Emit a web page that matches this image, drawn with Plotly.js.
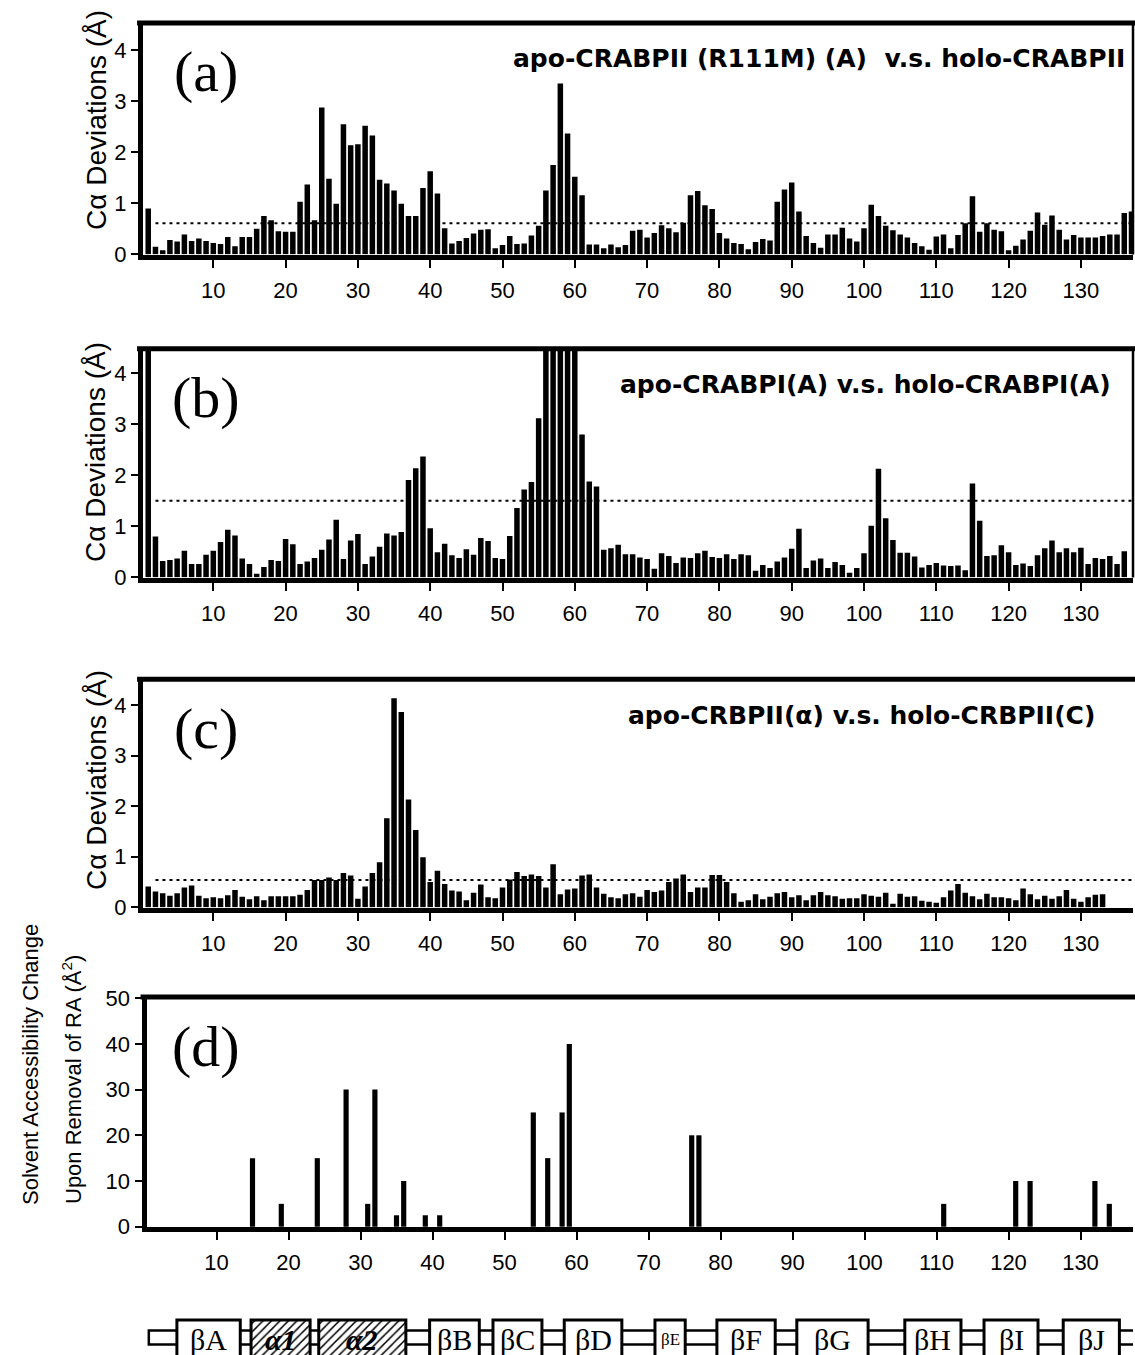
<!DOCTYPE html>
<html><head><meta charset="utf-8">
<script src="https://cdn.plot.ly/plotly-3.0.1.min.js"></script>
<style>html,body{margin:0;padding:0;background:#fff}</style>
</head><body><div id="chart" style="width:1135px;height:1355px"></div>
<script>
// ---------------- DATA ----------------
// (a) apo-CRABPII (R111M)(A) vs holo-CRABPII, residues 1..137
const devA = [0.90,0.15,0.08,0.28,0.25,0.39,0.26,0.31,0.26,0.22,
0.20,0.34,0.16,0.34,0.34,0.50,0.75,0.67,0.45,0.44,
0.44,1.03,1.37,0.67,2.88,1.48,0.99,2.55,2.14,2.16,
2.52,2.33,1.46,1.39,1.25,0.99,0.75,0.75,1.30,1.63,
1.19,0.51,0.21,0.26,0.32,0.41,0.48,0.49,0.12,0.18,
0.36,0.20,0.21,0.37,0.56,1.25,1.75,3.35,2.37,1.52,
1.16,0.19,0.19,0.12,0.19,0.14,0.18,0.46,0.48,0.33,
0.42,0.57,0.51,0.43,0.62,1.16,1.24,0.96,0.89,0.42,
0.31,0.22,0.20,0.10,0.24,0.30,0.27,1.03,1.27,1.41,
0.84,0.36,0.22,0.13,0.39,0.39,0.52,0.31,0.25,0.51,
0.97,0.75,0.56,0.47,0.39,0.33,0.22,0.16,0.09,0.35,
0.39,0.12,0.38,0.61,1.14,0.44,0.61,0.48,0.45,0.08,
0.17,0.29,0.46,0.82,0.58,0.76,0.48,0.29,0.38,0.33,
0.33,0.33,0.36,0.39,0.39,0.81,0.84];
// (b) apo-CRABPI(A) vs holo-CRABPI(A), residues 1..136 (off-scale bars estimated at 6)
const devB = [6.0,0.80,0.32,0.34,0.37,0.52,0.26,0.26,0.44,0.52,
0.69,0.93,0.82,0.37,0.26,0.07,0.20,0.34,0.32,0.75,
0.65,0.26,0.31,0.38,0.54,0.74,1.13,0.36,0.72,0.85,
0.26,0.41,0.60,0.86,0.82,0.89,1.91,2.14,2.37,0.96,
0.49,0.66,0.43,0.38,0.55,0.44,0.77,0.71,0.38,0.36,
0.81,1.36,1.72,1.87,3.12,6.0,6.0,6.0,6.0,6.0,
2.80,1.88,1.78,0.54,0.57,0.64,0.45,0.45,0.39,0.36,
0.17,0.47,0.42,0.28,0.39,0.38,0.47,0.52,0.40,0.38,
0.45,0.36,0.45,0.43,0.13,0.24,0.18,0.31,0.39,0.56,
0.95,0.18,0.33,0.37,0.18,0.30,0.24,0.09,0.18,0.47,
1.01,2.13,1.16,0.73,0.48,0.48,0.41,0.19,0.24,0.28,
0.23,0.22,0.23,0.14,1.84,1.11,0.42,0.43,0.63,0.49,
0.24,0.27,0.22,0.43,0.57,0.72,0.49,0.57,0.49,0.58,
0.26,0.38,0.36,0.42,0.26,0.51];
// (c) apo-CRBPII(alpha) vs holo-CRBPII(C), residues 1..133
const devC = [0.41,0.31,0.28,0.23,0.28,0.39,0.43,0.23,0.18,0.20,
0.18,0.24,0.34,0.21,0.16,0.22,0.14,0.22,0.22,0.22,
0.22,0.25,0.34,0.54,0.54,0.59,0.54,0.68,0.63,0.17,
0.41,0.68,0.89,1.76,4.13,3.86,2.13,1.53,0.99,0.50,
0.72,0.46,0.33,0.31,0.14,0.29,0.45,0.20,0.18,0.39,
0.55,0.70,0.62,0.65,0.62,0.39,0.85,0.26,0.35,0.37,
0.63,0.65,0.39,0.27,0.20,0.18,0.26,0.28,0.21,0.34,
0.30,0.33,0.50,0.57,0.65,0.30,0.39,0.39,0.64,0.64,
0.50,0.28,0.11,0.14,0.26,0.16,0.21,0.28,0.30,0.20,
0.24,0.14,0.24,0.30,0.24,0.22,0.17,0.18,0.18,0.26,
0.23,0.21,0.29,0.07,0.27,0.21,0.22,0.13,0.11,0.09,
0.20,0.33,0.46,0.29,0.22,0.16,0.27,0.20,0.20,0.18,
0.14,0.37,0.26,0.16,0.23,0.17,0.22,0.34,0.17,0.11,
0.20,0.25,0.26];
// (d) solvent accessibility change upon removal of RA
const sasResidues = [15,19,24,28,31,32,35,36,39,41,54,56,58,59,76,77,111,121,123,132,134];
const sasChange   = [15,5,15,30,5,30,2.5,10,2.5,2.5,25,15,25,40,20,20,5,10,10,10,5];
// dotted cut-off lines for panels a, b, c
const cutoffs = [0.61, 1.50, 0.54];
const panelLetters = ['(a)','(b)','(c)','(d)'];
const panelTitles = ['apo-CRABPII (R111M) (A)&nbsp;&nbsp;v.s. holo-CRABPII',
                     'apo-CRABPI(A) v.s. holo-CRABPI(A)',
                     'apo-CRBPII(α) v.s. holo-CRBPII(C)'];
const xTickVals = [10,20,30,40,50,60,70,80,90,100,110,120,130];
const devTickVals = [0,1,2,3,4];
const sasTickVals = [0,10,20,30,40,50];
const devTitle = 'Cα Deviations (Å)';
const sasTitle1 = 'Solvent Accessibility Change';
const sasTitle2 = 'Upon Removal of RA (Å<sup>2</sup>)';
// secondary structure elements (residue ranges)
const ssLabels = ['βA','α1','α2','βB','βC','βD','βE','βF','βG','βH','βI','βJ'];
const ssStart  = [4.5,14.8,24.2,39.6,48.4,58.3,70.9,79.5,90.6,105.6,116.6,127.6];
const ssEnd    = [13.3,23.0,36.3,46.5,55.2,66.3,75.1,87.6,100.5,113.4,124.1,135.4];
const ssType   = ['strand','helix','helix','strand','strand','strand','strand','strand','strand','strand','strand','strand'];

// ---------------- LAYOUT GEOMETRY (pixels) ----------------
const W = 1135, H = 1355;
const fx = p => p / W, fy = p => 1 - p / H;
const SANS = "'Liberation Sans', Arial, Helvetica, sans-serif";
const WIDE = "'DejaVu Sans', Verdana, sans-serif";
const SERIF = "'Liberation Serif', 'Times New Roman', Times, serif";
const RIGHT = 1133;
const geo = [
  {top:23,    bot:254.5, zero:254.3, unit:51,   left:143,   x0:141,   xu:7.23, titleRight:1127, titleY:59,  yTitle:120},
  {top:348.7, bot:577.5, zero:577.3, unit:51,   left:143,   x0:141,   xu:7.23, titleRight:1113, titleY:385, yTitle:452},
  {top:679.2, bot:907.5, zero:907.3, unit:50.6, left:143,   x0:141,   xu:7.23, titleRight:1097, titleY:716, yTitle:780},
  {top:997,   bot:1227,  zero:1226.7,unit:4.57, left:146.5, x0:144.5, xu:7.2}
];

const series = [devA, devB, devC];
const traces = [];
const layout = {
  width: W, height: H,
  margin: {l:0, r:0, t:0, b:0},
  paper_bgcolor: 'white', plot_bgcolor: 'white',
  showlegend: false,
  font: {family: SANS, color: 'black', size: 22},
  shapes: [], annotations: []
};

geo.forEach((g, i) => {
  const n = i + 1;
  const xa = 'xaxis' + (n === 1 ? '' : n), ya = 'yaxis' + (n === 1 ? '' : n);
  const xr = 'x' + (n === 1 ? '' : n), yr = 'y' + (n === 1 ? '' : n);
  const xRange = [(g.left - g.x0) / g.xu, (RIGHT - g.x0) / g.xu];
  const yRange = [(g.zero - g.bot) / g.unit, (g.zero - g.top) / g.unit];
  layout[xa] = {
    domain: [fx(g.left), fx(RIGHT)], range: xRange, anchor: yr,
    showline: true, linewidth: 5, linecolor: 'black',
    ticks: 'outside', ticklen: 8, tickwidth: 2, tickcolor: 'black',
    tickmode: 'array', tickvals: xTickVals, ticklabelstandoff: 4,
    tickfont: {family: SANS, size: 22, color: 'black'},
    showgrid: false, zeroline: false, fixedrange: true
  };
  layout[ya] = {
    domain: [fy(g.bot), fy(g.top)], range: yRange, anchor: xr,
    showline: true, linewidth: 5, linecolor: 'black',
    ticks: 'outside', ticklen: 7, tickwidth: 2, tickcolor: 'black',
    tickmode: 'array', tickvals: i < 3 ? devTickVals : sasTickVals,
    tickfont: {family: SANS, size: 22, color: 'black'},
    showgrid: false, zeroline: false, fixedrange: true
  };
  // top frame
  layout.shapes.push({type:'line', xref: xr + ' domain', yref: yr + ' domain',
    x0: -0.006, x1: 1.01, y0: 1, y1: 1, line: {color:'black', width:5}});
  if (i < 2) {
    layout.shapes.push({type:'line', xref: xr + ' domain', yref: yr + ' domain',
      x0: 1, x1: 1, y0: 0, y1: 1, line: {color:'black', width:2.5}});
  }
  if (i < 3) {
    traces.push({type:'bar', x: series[i].map((_, k) => k + 1), y: series[i],
      xaxis: xr, yaxis: yr, width: 0.76, marker: {color:'black', line:{width:0}},
      hoverinfo: 'x+y'});
    layout.shapes.push({type:'line', xref: xr, yref: yr, x0: 2, x1: xRange[1],
      y0: cutoffs[i], y1: cutoffs[i], line: {color:'black', width:2, dash:'3px,4px'}});
    layout.annotations.push({xref:'paper', yref:'paper', x: fx(g.titleRight), y: fy(g.titleY),
      xanchor:'right', yanchor:'middle', showarrow:false,
      text: '<b>' + panelTitles[i] + '</b>', font:{family:WIDE, size:25, color:'black'}});
    layout.annotations.push({xref:'paper', yref:'paper', x: fx(96), y: fy(g.yTitle),
      textangle: -90, xanchor:'center', yanchor:'middle', showarrow:false,
      text: devTitle, font:{family:SANS, size:28, color:'black'}});
  } else {
    traces.push({type:'bar', x: sasResidues, y: sasChange, xaxis: xr, yaxis: yr,
      width: 0.72, marker: {color:'black', line:{width:0}}, hoverinfo:'x+y'});
  }
  layout.annotations.push({xref:'paper', yref:'paper', x: fx(206), y: fy(g.top + 49),
    xanchor:'center', yanchor:'middle', showarrow:false, text: panelLetters[i],
    font:{family:SERIF, size:58, color:'black'}});
});

// panel (d) y-axis title, two columns
layout.annotations.push({xref:'paper', yref:'paper', x: fx(30), y: fy(1065), textangle:-90,
  xanchor:'center', yanchor:'middle', showarrow:false, text: sasTitle1,
  font:{family:SANS, size:22, color:'black'}});
layout.annotations.push({xref:'paper', yref:'paper', x: fx(72), y: fy(1080), textangle:-90,
  xanchor:'center', yanchor:'middle', showarrow:false, text: sasTitle2,
  font:{family:SANS, size:22, color:'black'}});

// ---------------- secondary-structure diagram ----------------
const ssBottomPx = 1355, ssTopPx = 1310, ssSpan = ssBottomPx - ssTopPx;
const pv = p => (ssBottomPx - p) / ssSpan;
layout.xaxis5 = {domain: layout.xaxis4.domain, range: layout.xaxis4.range, anchor:'y5',
  visible:false, fixedrange:true};
layout.yaxis5 = {domain: [fy(ssBottomPx), fy(ssTopPx)], range:[0,1], anchor:'x5',
  visible:false, fixedrange:true};
layout.shapes.push({type:'rect', xref:'x5', yref:'y5', layer:'below',
  x0: 0.6, x1: 137.8, y0: pv(1344.5), y1: pv(1330.5),
  line:{color:'black', width:2.5}, fillcolor:'white'});
traces.push({type:'bar', xaxis:'x5', yaxis:'y5',
  x: ssStart.map((s, k) => (s + ssEnd[k]) / 2),
  width: ssStart.map((s, k) => ssEnd[k] - s),
  base: ssStart.map(() => -0.3),
  y: ssStart.map(() => pv(1320) + 0.3),
  marker: {color:'white', line:{color:'black', width:3},
    pattern:{shape: ssType.map(t => t === 'helix' ? '/' : ''), fgcolor:'black',
      bgcolor:'white', size:6, solidity:0.25}},
  hoverinfo:'skip'});
ssLabels.forEach((lab, k) => {
  const helix = ssType[k] === 'helix';
  const small = (ssEnd[k] - ssStart[k]) < 5;
  layout.annotations.push({xref:'x5', yref:'y5', x:(ssStart[k] + ssEnd[k]) / 2, y: pv(1339),
    xanchor:'center', yanchor:'middle', showarrow:false,
    text: helix ? '<b><i>' + lab + '</i></b>' : lab,
    font:{family:SERIF, size: small ? 17 : 30, color:'black'}});
});

Plotly.newPlot('chart', traces, layout, {staticPlot:true, displayModeBar:false});
</script>
</body></html>
